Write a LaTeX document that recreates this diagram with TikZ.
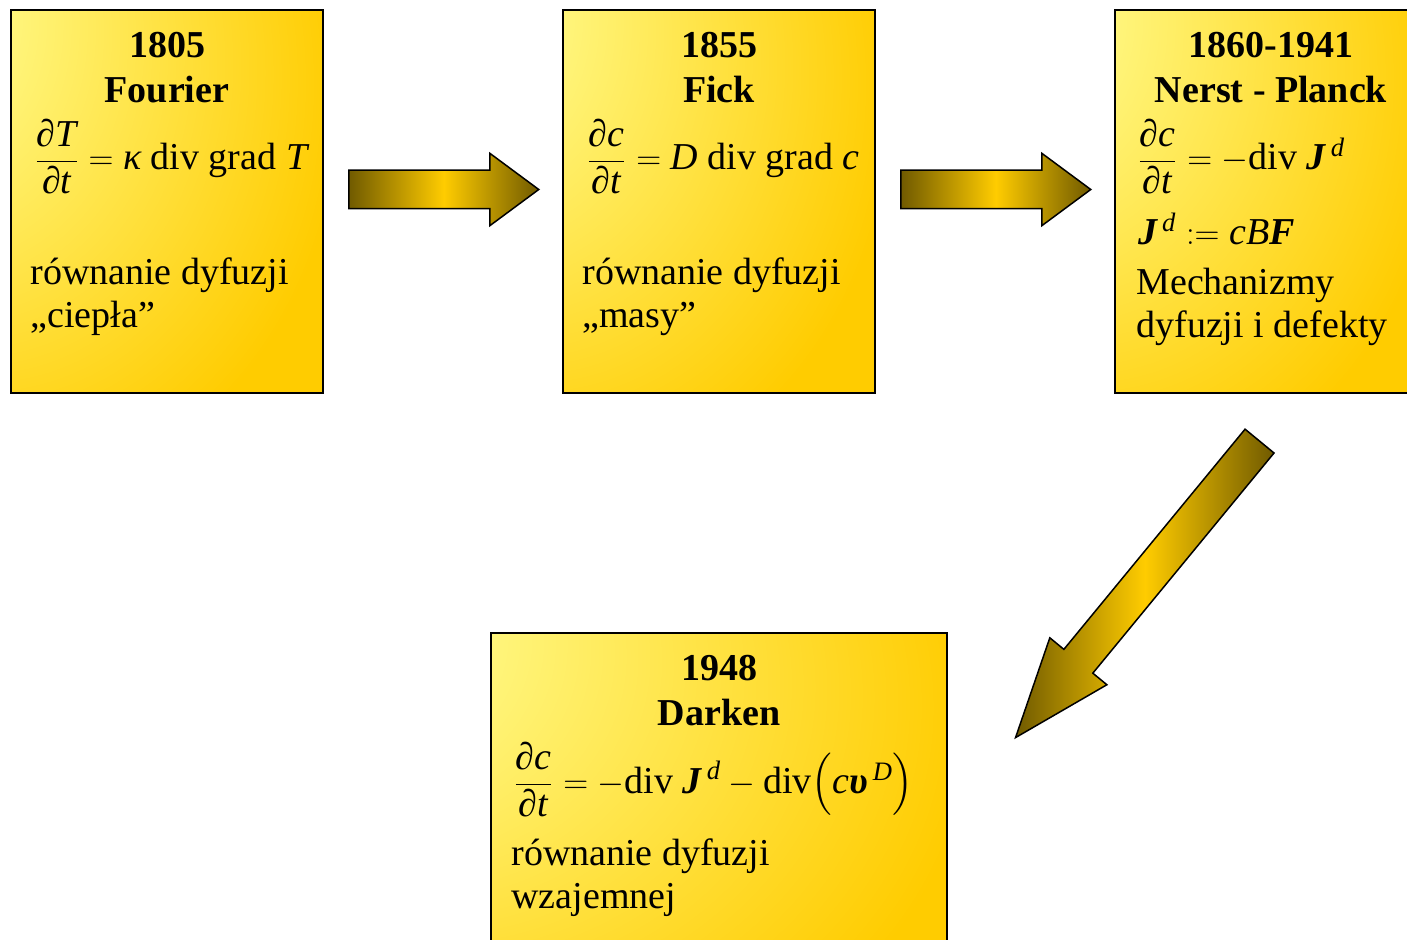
\documentclass[tikz,border=0pt]{standalone}
\usepackage{amsmath}
\usepackage{fontspec}
\setmainfont{Liberation Serif}
\usetikzlibrary{shapes.arrows,calc}
\definecolor{paleyellow}{RGB}{255,255,153}
\definecolor{boxgold}{RGB}{255,204,0}
\definecolor{arrowdark}{RGB}{112,90,0}
\pgfdeclareradialshading{cornerglow}{\pgfpoint{-50bp}{30bp}}{%
  color(0bp)=(paleyellow); color(8bp)=(paleyellow); color(52bp)=(boxgold); color(100bp)=(boxgold)}
\newcommand{\ivar}[1]{\text{\itshape #1}}
\newcommand{\boldit}[1]{\text{\bfseries\itshape #1}}
\tikzset{
  era/.style={draw=black,line width=1pt,shade,shading=cornerglow,anchor=north west,
    inner sep=0pt,minimum width=156pt,minimum height=191.5pt},
  eraname/.style={font=\fontsize{19}{22.5}\selectfont\bfseries,align=center,anchor=north,inner sep=0pt},
  formula/.style={anchor=base west,inner sep=0pt},
  note/.style={align=left,anchor=base west,inner sep=0pt},
  blockarrow/.style={single arrow,draw=black,line width=0.75pt,anchor=tail,
    left color=arrowdark,right color=arrowdark,middle color=boxgold,
    inner xsep=0pt,inner ysep=9.25pt,single arrow head extend=8.5pt,
    single arrow tip angle=73,minimum height=95pt}
}

\begin{document}
\begin{tikzpicture}[x=0.5pt,y=0.5pt,font=\fontsize{19}{21.5}\selectfont]
  \path[use as bounding box,clip] (0,0) rectangle (1407,-940);
  % the four stages
  \node[era] (fourier) at (10,-9) {};
  \node[era] (fick) at (562,-9) {};
  \node[era] (planck) at (1114,-9) {};
  \node[era,minimum width=228pt] (darken) at (490,-632) {};

  \node[eraname] (fourierhd) at ($(fourier.north)+(0,-23)$) {1805\\Fourier};
  \node[formula] (fouriereq) at ($(fourier.north west)+(24,-161)$)
    {$\dfrac{\ivar{∂T}}{\ivar{∂t}}=\ivar{κ}\text{ div grad }\ivar{T}$};
  \node[note] (fouriertx) at ($(fourier.north west)+(20,-319)$) {równanie dyfuzji\\„ciepła”};

  \node[eraname] (fickhd) at ($(fick.north)+(0,-23)$) {1855\\Fick};
  \node[formula] (fickeq) at ($(fick.north west)+(24,-161)$)
    {$\dfrac{\ivar{∂c}}{\ivar{∂t}}=\ivar{D}\text{ div grad }\ivar{c}$};
  \node[note] (ficktx) at ($(fick.north west)+(20,-319)$) {równanie dyfuzji\\„masy”};

  \node[eraname] (planckhd) at ($(planck.north)+(0,-23)$) {1860-1941\\Nerst - Planck};
  \node[formula] (planckeq) at ($(planck.north west)+(23,-161)$)
    {$\dfrac{\ivar{∂c}}{\ivar{∂t}}=-\text{div}\;\boldit{J}^{\,\ivar{d}}$};
  \node[formula] (planckflux) at ($(planck.north west)+(24,-236)$)
    {$\boldit{J}^{\,\ivar{d}}\mathrel{:=}\ivar{cB}\boldit{F}$};
  \node[note] (plancktx) at ($(planck.north west)+(22,-329)$) {Mechanizmy\\dyfuzji i defekty};

  \node[eraname] (darkenhd) at ($(darken.north)+(0,-23)$) {1948\\Darken};
  \node[formula] (darkeneq) at ($(darken.north west)+(23,-161)$)
    {$\dfrac{\ivar{∂c}}{\ivar{∂t}}=-\text{div}\;\boldit{J}^{\,\ivar{d}}-\text{div}\Bigl(\ivar{c}\boldit{υ}^{\,\ivar{D}}\Bigr)$};
  \node[note] (darkentx) at ($(darken.north west)+(21,-276)$) {równanie dyfuzji\\wzajemnej};

  % block arrows between the stages
  \node[blockarrow] (step1) at ($(fourier.east)+(24,12)$) {};
  \node[blockarrow] (step2) at ($(fick.east)+(24,12)$) {};
  \node[blockarrow,rotate=230.55,inner ysep=9pt,single arrow head extend=9.1pt,
    single arrow tip angle=41,minimum height=192pt] (step3) at ($(planck.south)+(-11,-46.5)$) {};
\end{tikzpicture}
\end{document}
